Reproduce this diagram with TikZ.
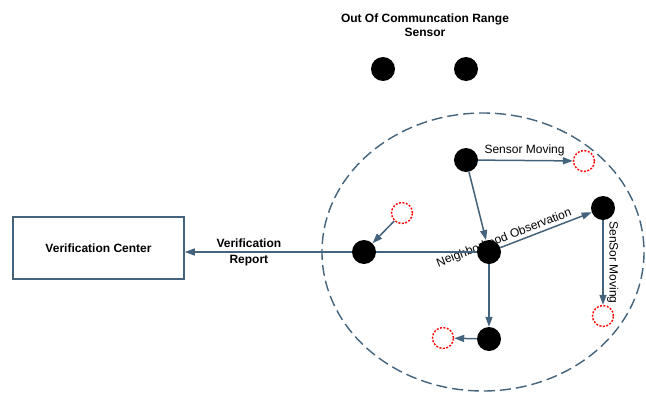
\documentclass[tikz,border=0pt]{standalone}
\usepackage{fontspec}
\setmainfont{Liberation Sans}
\usetikzlibrary{arrows.meta,backgrounds}
\definecolor{linkblue}{HTML}{44637D}
\tikzset{
  sensor/.style={circle, fill=black, minimum size=24pt, inner sep=0pt},
  ghost/.style={circle, draw=red, line width=1.4pt, dash pattern=on 2pt off 1.5pt,
                minimum size=21pt, inner sep=0pt, fill=white},
  link/.style={draw=linkblue, line width=1.5pt,
               -{Triangle[length=10pt,width=7pt]}},
  plainlink/.style={draw=linkblue, line width=1.5pt},
  lbl/.style={font=\fontsize{12}{14}\selectfont, text=black},
  blbl/.style={font=\bfseries\fontsize{12}{16}\selectfont, text=black, align=center},
  centerbox/.style={draw=linkblue, line width=1.5pt, minimum width=171pt,
                    minimum height=62pt, inner sep=0pt}
}
\begin{document}
\begin{tikzpicture}[x=1pt, y=-1pt]
  \useasboundingbox (0,0) rectangle (646,394);

  % communication range
  \draw[linkblue, line width=1.4pt, dash pattern=on 11pt off 5pt]
    (483,252) ellipse [x radius=161, y radius=139];

  % title
  \node[blbl, font=\bfseries\fontsize{12}{14}\selectfont] (title) at (425,25)
    {Out Of Communcation Range\\Sensor};

  % verification center
  \node[centerbox, blbl] (vc) at (98.5,248) {Verification Center};

  % sensors out of range
  \node[sensor] (out1) at (383,69) {};
  \node[sensor] (out2) at (466,69) {};

  % sensors in range
  \node[sensor] (A) at (466,160) {};
  \node[sensor] (C) at (489,252) {};
  \node[sensor] (L) at (364,252) {};
  \node[sensor] (R) at (603,208) {};
  \node[sensor] (B) at (489,339) {};

  % new positions of moving sensors
  \node[ghost] (gA) at (584,161) {};
  \node[ghost] (gL) at (402,213) {};
  \node[ghost] (gR) at (603,316) {};
  \node[ghost] (gB) at (443,338) {};

  \begin{scope}[on background layer]
    \draw[link] (A) -- node[lbl, above, pos=0.49] {Sensor Moving} (gA);
    \draw[link] (A) -- (C);
    \draw[link] (C) -- node[lbl, sloped, above, inner sep=1pt, pos=0.07] {Neighborhood Observation} (R);
    \draw[link] (R) -- node[lbl, sloped, above, pos=0.5] {SenSor Moving} (gR);
    \draw[link] (C) -- (B);
    \draw[link] (B) -- (gB);
    \draw[link] (gL) -- (L);
    \draw[plainlink] (C) -- (L);
    \draw[link] (L) -- node[blbl, pos=0.616] {Verification\\Report} (vc.east |- L);
  \end{scope}
\end{tikzpicture}
\end{document}
